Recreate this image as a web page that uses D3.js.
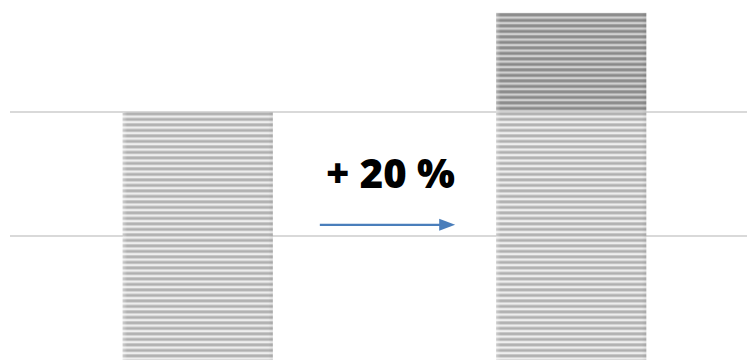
<!DOCTYPE html>
<html>
<head>
<meta charset="utf-8">
<script src="https://cdn.jsdelivr.net/npm/d3@7"></script>
<style>
  html, body { margin: 0; padding: 0; background: #ffffff; }
  svg { display: block; }
</style>
</head>
<body>
<svg id="chart" width="747" height="360"></svg>
<script>
// ---- data ----
const categories = ["Before", "After"];
const baseValues = [100, 100];
const increaseValues = [0, 40];
const gridTicks = [50, 100];
const annotationText = "+ 20 %";

// ---- layout ----
const W = 747, H = 360;
const svg = d3.select("#chart");

const x = d3.scaleBand().domain(categories).range([11, 758]).paddingInner(0.598).paddingOuter(0.299);
const y = d3.scaleLinear().domain([0, 150]).range([360, -12]);

const defs = svg.append("defs");
function stripePattern(id, light, mid, dark) {
  const p = defs.append("pattern").attr("id", id)
    .attr("patternUnits", "userSpaceOnUse").attr("width", 10).attr("height", 5.5)
    .attr("y", 112);
  p.append("rect").attr("width", 10).attr("height", 5.5).attr("fill", light);
  p.append("rect").attr("y", 0).attr("width", 10).attr("height", 1).attr("fill", mid);
  p.append("rect").attr("y", 1).attr("width", 10).attr("height", 1.8).attr("fill", dark);
  p.append("rect").attr("y", 2.8).attr("width", 10).attr("height", 0.9).attr("fill", mid);
}
stripePattern("stripeLight", "#eeeeee", "#c8c8c8", "#aeaeae");
stripePattern("stripeDark", "#d0d0d0", "#a2a2a2", "#878787");

// edge shading gradient
const eg = defs.append("linearGradient").attr("id", "edge").attr("x1", 0).attr("x2", 1).attr("y1", 0).attr("y2", 0);
eg.append("stop").attr("offset", "0").attr("stop-color", "#ffffff").attr("stop-opacity", 0.35);
eg.append("stop").attr("offset", "0.03").attr("stop-color", "#ffffff").attr("stop-opacity", 0);
eg.append("stop").attr("offset", "0.97").attr("stop-color", "#000000").attr("stop-opacity", 0);
eg.append("stop").attr("offset", "1").attr("stop-color", "#000000").attr("stop-opacity", 0.06);

// gridlines
svg.append("g").selectAll("line").data(gridTicks).join("line")
  .attr("x1", 10).attr("x2", W)
  .attr("y1", d => y(d)).attr("y2", d => y(d))
  .attr("stroke", "#d9d9d9").attr("stroke-width", 2);

// base bars
const bars = svg.append("g");
bars.selectAll("rect.base").data(categories).join("rect").attr("class", "base")
  .attr("x", d => x(d)).attr("width", x.bandwidth())
  .attr("y", (d, i) => y(baseValues[i]))
  .attr("height", (d, i) => y(0) - y(baseValues[i]))
  .attr("fill", "url(#stripeLight)");

// increase segments
bars.selectAll("rect.inc").data(categories.filter((d, i) => increaseValues[i] > 0)).join("rect").attr("class", "inc")
  .attr("x", d => x(d)).attr("width", x.bandwidth())
  .attr("y", d => { const i = categories.indexOf(d); return y(baseValues[i] + increaseValues[i]); })
  .attr("height", d => { const i = categories.indexOf(d); return y(baseValues[i]) - y(baseValues[i] + increaseValues[i]); })
  .attr("fill", "url(#stripeDark)");

// edge overlay
bars.selectAll("rect.edge").data(categories).join("rect").attr("class", "edge")
  .attr("x", d => x(d)).attr("width", x.bandwidth())
  .attr("y", (d, i) => y(baseValues[i] + increaseValues[i]))
  .attr("height", (d, i) => y(0) - y(baseValues[i] + increaseValues[i]))
  .attr("fill", "url(#edge)");

// annotation: arrow between bars
const gapL = x(categories[0]) + x.bandwidth();
const gapR = x(categories[1]);
const arrowY = y(54.5);
const ax1 = gapL + 47, ax2 = gapR - 41;
svg.append("line").attr("x1", ax1).attr("x2", ax2 - 14).attr("y1", arrowY).attr("y2", arrowY)
  .attr("stroke", "#4a7ebb").attr("stroke-width", 2.4);
svg.append("path")
  .attr("d", `M${ax2 - 16},${arrowY - 6} L${ax2},${arrowY} L${ax2 - 16},${arrowY + 6} Z`)
  .attr("fill", "#4a7ebb");

svg.append("text")
  .attr("x", (gapL + gapR) / 2 + 6).attr("y", y(69.4))
  .attr("text-anchor", "middle")
  .attr("font-family", "'Open Sans', sans-serif").attr("font-weight", 800)
  .attr("font-size", 40).attr("fill", "#000")
  .text(annotationText);
</script>
</body>
</html>
